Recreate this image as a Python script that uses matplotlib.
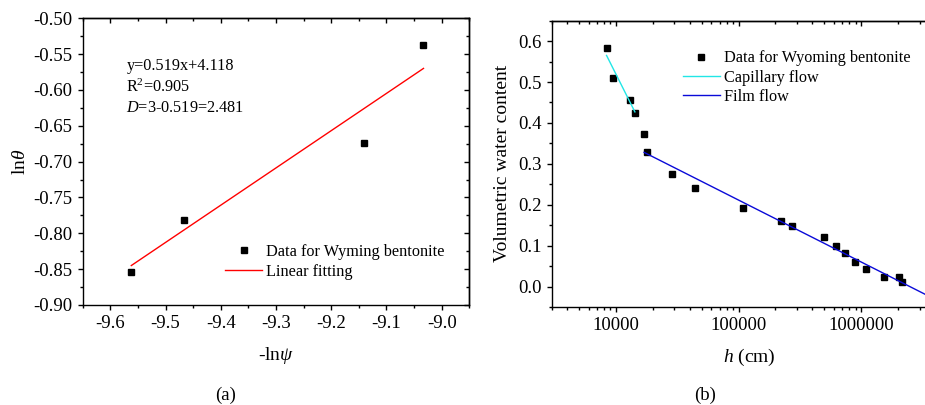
import matplotlib
matplotlib.use("Agg")
import matplotlib.pyplot as plt
from matplotlib.ticker import MultipleLocator, FixedLocator, FuncFormatter, LogLocator, NullFormatter

plt.rcParams["font.family"] = ["Liberation Serif", "DejaVu Serif"]
plt.rcParams["mathtext.fontset"] = "custom"
plt.rcParams["mathtext.rm"] = "Liberation Serif"
plt.rcParams["mathtext.it"] = "Liberation Serif:italic"

# (a) fractal dimension fit
neg_ln_psi = [-9.562, -9.467, -9.140, -9.034]
ln_theta = [-0.8535, -0.782, -0.674, -0.538]
fit_x = [-9.562, -9.033]
fit_y = [-0.845, -0.570]

# (b) water retention data
h_cm = [8400, 9400, 13000, 14300, 16900, 17900, 28900, 44000, 108900,
        220000, 274000, 493000, 618000, 731000, 883000, 1100000,
        1530000, 2030000, 2160000]
theta = [0.583, 0.509, 0.456, 0.425, 0.374, 0.328, 0.276, 0.241, 0.193,
         0.161, 0.149, 0.120, 0.098, 0.081, 0.061, 0.043,
         0.024, 0.023, 0.010]
cap_h = [8400, 14300]
cap_theta = [0.565, 0.427]
film_h = [17000, 5000000]
film_theta = [0.328, -0.046]

TICK_FS = 13.5
LABEL_FS = 14


def style_axes(ax, log_x=False):
    for sp in ax.spines.values():
        sp.set_linewidth(1.0)
    ax.tick_params(which="both", labelsize=TICK_FS, width=1.0, direction="out",
                   top=False, right=False)
    ax.tick_params(which="major", length=3.8)
    ax.tick_params(which="minor", length=2.2)

    # top and right ticks point inward, without labels
    top = ax.secondary_xaxis("top")
    right = ax.secondary_yaxis("right")
    if log_x:
        top.xaxis.set_major_locator(FixedLocator([10000, 100000, 1000000]))
        top.xaxis.set_minor_locator(LogLocator(base=10, subs=range(2, 10), numticks=20))
    else:
        top.xaxis.set_major_locator(ax.xaxis.get_major_locator())
        top.xaxis.set_minor_locator(ax.xaxis.get_minor_locator())
    right.yaxis.set_major_locator(ax.yaxis.get_major_locator())
    right.yaxis.set_minor_locator(ax.yaxis.get_minor_locator())
    for sec in (top, right):
        sec.tick_params(which="both", direction="in", width=1.0,
                        labeltop=False, labelright=False, labelbottom=False, labelleft=False)
        sec.tick_params(which="major", length=3.8)
        sec.tick_params(which="minor", length=2.2)
        for sp in sec.spines.values():
            sp.set_linewidth(1.0)


fig = plt.figure(figsize=(9.25, 4.05), dpi=100)

# panel (a)
ax1 = fig.add_axes([0.0894, 0.247, 0.418, 0.708])
ax1.plot(neg_ln_psi, ln_theta, "s", color="black", markersize=5,
         label="Data for Wyming bentonite")
ax1.plot(fit_x, fit_y, color="red", linewidth=1.0, label="Linear fitting")
ax1.set_xlim(-9.65, -8.95)
ax1.set_ylim(-0.90, -0.50)
ax1.xaxis.set_major_locator(MultipleLocator(0.1))
ax1.xaxis.set_minor_locator(MultipleLocator(0.05))
ax1.yaxis.set_major_locator(MultipleLocator(0.05))
ax1.yaxis.set_minor_locator(MultipleLocator(0.025))
ax1.xaxis.set_major_formatter(FuncFormatter(lambda v, p: f"{v:.1f}"))
ax1.yaxis.set_major_formatter(FuncFormatter(lambda v, p: f"{v:.2f}"))
style_axes(ax1)
ax1.set_xlabel(r"-ln$\mathit{\psi}$", fontsize=LABEL_FS, labelpad=9)
ax1.set_ylabel(r"ln$\mathit{\theta}$", fontsize=LABEL_FS, labelpad=3)
ax1.text(0.113, 0.833, "y=0.519x+4.118", transform=ax1.transAxes, fontsize=11.7, va="center")
ax1.text(0.113, 0.758, r"R$^{2}$=0.905", transform=ax1.transAxes, fontsize=11.7, va="center")
ax1.text(0.113, 0.688, r"$\mathit{D}$=3-0.519=2.481", transform=ax1.transAxes, fontsize=11.7, va="center")
ax1.legend(loc="lower left", bbox_to_anchor=(0.347, 0.06), frameon=False,
           fontsize=11.7, handlelength=2.3, handletextpad=0.25, labelspacing=0.25,
           markerscale=1.0, borderpad=0)

# panel (b)
ax2 = fig.add_axes([0.5964, 0.242, 0.4274, 0.707])
ax2.plot(h_cm, theta, "s", color="black", markersize=5,
         label="Data for Wyoming bentonite")
ax2.plot(cap_h, cap_theta, color="#22e6e6", linewidth=1.0, label="Capillary flow")
ax2.plot(film_h, film_theta, color="#0a0ad8", linewidth=1.0, label="Film flow")
ax2.set_xscale("log")
ax2.set_xlim(3000, 5000000)
ax2.set_ylim(-0.05, 0.65)
ax2.xaxis.set_major_locator(FixedLocator([10000, 100000, 1000000]))
ax2.xaxis.set_minor_locator(LogLocator(base=10, subs=range(2, 10), numticks=20))
ax2.xaxis.set_major_formatter(FuncFormatter(lambda v, p: f"{int(round(v))}"))
ax2.xaxis.set_minor_formatter(NullFormatter())
ax2.yaxis.set_major_locator(MultipleLocator(0.1))
ax2.yaxis.set_minor_locator(MultipleLocator(0.05))
ax2.yaxis.set_major_formatter(FuncFormatter(lambda v, p: f"{v:.1f}"))
style_axes(ax2, log_x=True)
ax2.set_xlabel(r"$\mathit{h}$ (cm)", fontsize=LABEL_FS, labelpad=9)
ax2.set_ylabel("Volumetric water content", fontsize=LABEL_FS, labelpad=5)
ax2.legend(loc="upper left", bbox_to_anchor=(0.311, 0.925), frameon=False,
           fontsize=11.7, handlelength=2.3, handletextpad=0.25, labelspacing=0.2,
           markerscale=1.0, borderpad=0)

fig.text(226 / 925, 1 - 395 / 405, "(a)", ha="center", va="center", fontsize=13.5)
fig.text(705 / 925, 1 - 395 / 405, "(b)", ha="center", va="center", fontsize=13.5)

fig.savefig("out.png", dpi=100)
